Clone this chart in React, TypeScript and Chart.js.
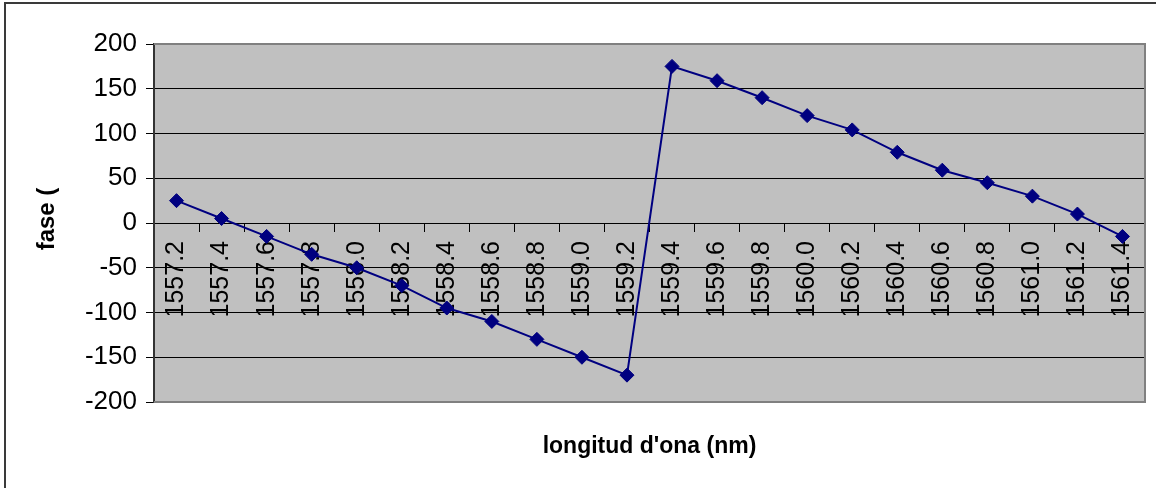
import React, { useEffect, useRef } from 'react';
import { Chart, registerables } from 'chart.js';

Chart.register(...registerables);

const wavelengths = [
  '1557.2', '1557.4', '1557.6', '1557.8', '1558.0', '1558.2', '1558.4', '1558.6',
  '1558.8', '1559.0', '1559.2', '1559.4', '1559.6', '1559.8', '1560.0', '1560.2',
  '1560.4', '1560.6', '1560.8', '1561.0', '1561.2', '1561.4',
];
const phase = [
  25, 5, -15, -35, -50, -70, -95, -110, -130, -150, -170,
  175, 159, 140, 120, 104, 79, 59, 45, 30, 10, -15,
];
const yMin = -200;
const yMax = 200;
const yStep = 50;
const xTitle = "longitud d'ona (nm)";
const yTitle = 'fase (';

const FONT = '"Liberation Sans", Arial, Helvetica, sans-serif';

const decorPlugin = {
  id: 'decor',
  beforeDraw(chart: any) {
    const { ctx, chartArea } = chart;
    ctx.save();
    ctx.strokeStyle = '#3a3a3a';
    ctx.lineWidth = 2;
    ctx.strokeRect(5, 3, 1300, 700);
    ctx.fillStyle = '#C0C0C0';
    ctx.fillRect(chartArea.left, chartArea.top, chartArea.right - chartArea.left, chartArea.bottom - chartArea.top);
    ctx.restore();
  },
  beforeDatasetsDraw(chart: any) {
    const { ctx, chartArea } = chart;
    ctx.save();
    ctx.strokeStyle = '#808080';
    ctx.lineWidth = 2;
    ctx.beginPath();
    ctx.moveTo(chartArea.left, chartArea.top);
    ctx.lineTo(chartArea.right, chartArea.top);
    ctx.lineTo(chartArea.right, chartArea.bottom);
    ctx.lineTo(chartArea.left, chartArea.bottom);
    ctx.stroke();
    ctx.restore();
  },
  afterDraw(chart: any) {
    const { ctx, chartArea } = chart;
    ctx.save();
    ctx.fillStyle = '#000';
    ctx.font = `bold 23px ${FONT}`;
    ctx.textAlign = 'center';
    ctx.textBaseline = 'middle';
    ctx.fillText(xTitle, (chartArea.left + chartArea.right) / 2, 447);
    ctx.translate(47, 219);
    ctx.rotate(-Math.PI / 2);
    ctx.font = `bold 24px ${FONT}`;
    ctx.fillText(yTitle, 0, 0);
    ctx.restore();
  },
};

export default function App() {
  const canvasRef = useRef<HTMLCanvasElement | null>(null);

  useEffect(() => {
    const canvas = canvasRef.current;
    if (!canvas) return;
    const chart = new Chart(canvas, {
      type: 'line',
      data: {
        labels: wavelengths,
        datasets: [
          {
            data: phase,
            borderColor: '#000080',
            backgroundColor: '#000080',
            borderWidth: 2,
            pointStyle: 'rectRot',
            pointRadius: 7,
            pointBorderWidth: 1,
            pointBackgroundColor: '#000080',
            pointBorderColor: '#000080',
            tension: 0,
            fill: false,
          },
        ],
      },
      options: {
        animation: false,
        responsive: false,
        layout: { padding: { left: 0, top: 44, right: 11, bottom: 86 } },
        plugins: {
          legend: { display: false },
          tooltip: { enabled: false },
          title: { display: false },
        },
        scales: {
          x: {
            type: 'category',
            position: { y: 0 } as any,
            offset: true,
            grid: {
              offset: true,
              drawOnChartArea: false,
              drawTicks: true,
              tickLength: 8,
              color: '#000',
              lineWidth: 1,
            },
            border: { display: true, color: '#000', width: 1 },
            ticks: {
              autoSkip: false,
              minRotation: 90,
              maxRotation: 90,
              color: '#000',
              padding: 10,
              font: { family: FONT, size: 25 },
            },
            afterFit: (s: any) => {
              s.paddingLeft = 0;
              s.paddingRight = 0;
            },
          },
          y: {
            min: yMin,
            max: yMax,
            ticks: {
              stepSize: yStep,
              color: '#000',
              padding: 9,
              font: { family: FONT, size: 26 },
            },
            grid: {
              color: (c: any) =>
                c.tick && (c.tick.value === yMax || c.tick.value === yMin) ? '#808080' : '#000',
              tickColor: '#000',
              tickLength: 8,
              lineWidth: 1,
            },
            border: { display: true, color: '#333', width: 2 },
            afterFit: (s: any) => {
              s.width = 154;
            },
          },
        },
      },
      plugins: [decorPlugin],
    });
    return () => chart.destroy();
  }, []);

  return (
    <div style={{ position: 'fixed', left: 0, top: 0, width: 1156, height: 488, background: '#fff' }}>
      <canvas ref={canvasRef} width={1156} height={488} style={{ width: 1156, height: 488 }} />
    </div>
  );
}
